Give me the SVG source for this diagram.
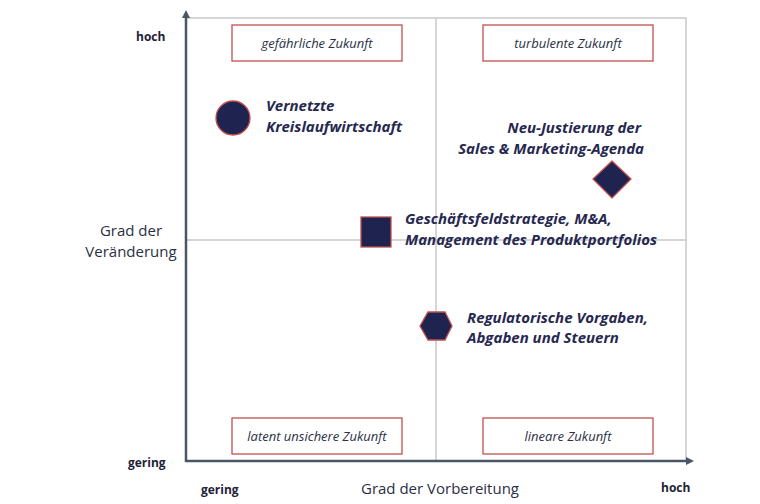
<svg xmlns="http://www.w3.org/2000/svg" width="760" height="504" viewBox="0 0 760 504">
<defs>
<style>
.grid{stroke:#c8c8cc;stroke-width:1.5;fill:none}
.axis{stroke:#4a5566;stroke-width:2.5;fill:none}
.box{fill:#fff;stroke:#c0504d;stroke-width:1.3}
.bt{font-family:"Open Sans",sans-serif;font-style:italic;font-size:13px;fill:#2a2f45;text-anchor:middle}
.lbl{font-family:"Open Sans",sans-serif;font-style:italic;font-weight:bold;font-size:15px;fill:#262850}
.ax{font-family:"Open Sans",sans-serif;font-weight:bold;font-size:12px;fill:#1e2235}
.at{font-family:"Open Sans",sans-serif;font-size:15px;fill:#2a2f45;text-anchor:middle}
.mk{fill:#1f2350;stroke:#c0504d;stroke-width:1.3}
</style>
<marker id="ah" markerWidth="8" markerHeight="8" refX="4" refY="4" orient="auto" markerUnits="userSpaceOnUse"><path d="M0,0 L8,4 L0,8 z" fill="#4a5566"/></marker>
</defs>
<g id="grid">
<rect class="grid" x="186" y="18" width="500" height="443"/>
<line class="grid" x1="436" y1="18" x2="436" y2="461"/>
<line class="grid" x1="186" y1="240" x2="686" y2="240"/>
</g>
<g id="axes">
<line class="axis" x1="186" y1="462" x2="186" y2="14" marker-end="url(#ah)"/>
<line class="axis" x1="185" y1="461" x2="690" y2="461" marker-end="url(#ah)"/>
</g>
<text class="ax" x="136" y="41">hoch</text>
<text class="ax" x="128" y="467">gering</text>
<text class="ax" x="201" y="494">gering</text>
<text class="ax" x="661" y="492">hoch</text>
<text class="at" x="131" y="236">Grad der</text>
<text class="at" x="131" y="257">Veränderung</text>
<text class="at" x="440" y="494">Grad der Vorbereitung</text>
<g id="q1"><rect class="box" x="232" y="25" width="170" height="36"/><text class="bt" x="317" y="48">gefährliche Zukunft</text></g>
<g id="q2"><rect class="box" x="483" y="25" width="170" height="36"/><text class="bt" x="568" y="48">turbulente Zukunft</text></g>
<g id="q3"><rect class="box" x="232" y="418" width="170" height="36"/><text class="bt" x="317" y="441">latent unsichere Zukunft</text></g>
<g id="q4"><rect class="box" x="483" y="418" width="170" height="36"/><text class="bt" x="568" y="441">lineare Zukunft</text></g>
<g id="n1"><circle class="mk" cx="233" cy="118" r="17"/><text class="lbl" x="266" y="111">Vernetzte</text><text class="lbl" x="266" y="132">Kreislaufwirtschaft</text></g>
<g id="n2"><path class="mk" d="M612,161 L631,179 L612,198 L593,179 Z" stroke-linejoin="round"/><text class="lbl" x="641" y="133" text-anchor="end">Neu-Justierung der</text><text class="lbl" x="644" y="154" text-anchor="end">Sales &amp; Marketing-Agenda</text></g>
<g id="n3"><rect class="mk" x="361" y="217" width="30" height="30"/><text class="lbl" x="405" y="224">Geschäftsfeldstrategie, M&amp;A,</text><text class="lbl" x="405" y="245">Management des Produktportfolios</text></g>
<g id="n4"><path class="mk" d="M428,312 L445,312 L452,326 L445,340 L428,340 L420,326 Z"/><text class="lbl" x="467" y="323">Regulatorische Vorgaben,</text><text class="lbl" x="467" y="343">Abgaben und Steuern</text></g>
</svg>
